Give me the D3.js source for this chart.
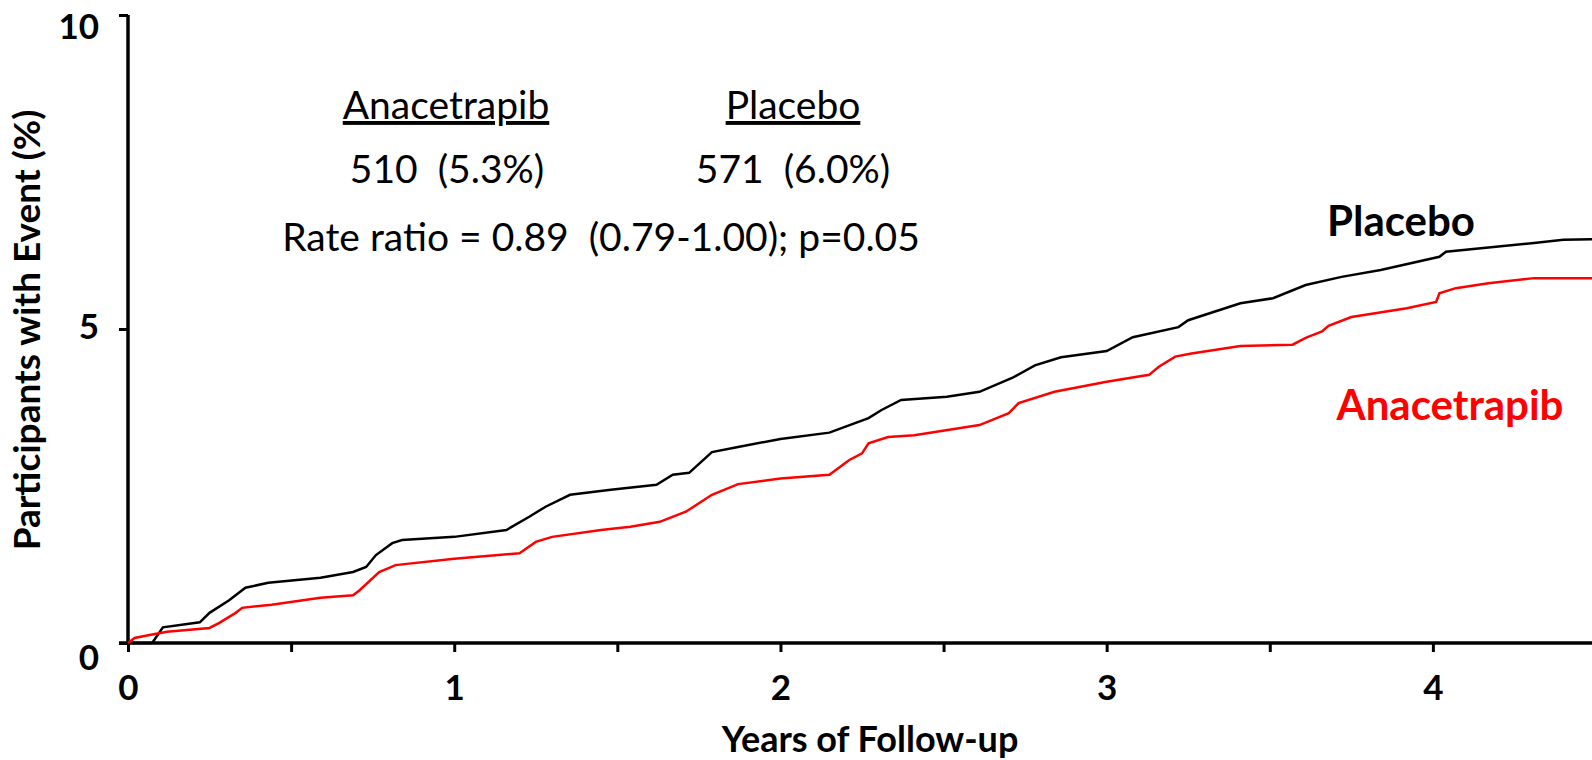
<!DOCTYPE html>
<html>
<head>
<meta charset="utf-8">
<script src="https://cdn.jsdelivr.net/npm/d3@7"></script>
<style>
  body { margin: 0; background: #fff; }
  svg { display: block; font-family: Lato, "Open Sans", sans-serif; }
</style>
</head>
<body>
<svg width="1592" height="760"></svg>
<script>
// values (years, % with event)
var placeboT   = [0, 0.074, 0.107, 0.22, 0.25, 0.31, 0.36, 0.43, 0.59, 0.69, 0.73, 0.76, 0.81, 0.84, 1.0, 1.16, 1.23, 1.28, 1.355, 1.48, 1.62, 1.67, 1.72, 1.79, 1.87, 2.0, 2.15, 2.27, 2.31, 2.37, 2.51, 2.61, 2.71, 2.78, 2.86, 3.0, 3.08, 3.22, 3.25, 3.41, 3.51, 3.61, 3.72, 3.84, 4.02, 4.04, 4.31, 4.40, 4.5];
var placeboPct = [0, 0, 0.25, 0.33, 0.48, 0.68, 0.88, 0.96, 1.04, 1.13, 1.21, 1.40, 1.59, 1.64, 1.69, 1.80, 2.01, 2.17, 2.36, 2.44, 2.52, 2.68, 2.71, 3.04, 3.12, 3.25, 3.35, 3.58, 3.71, 3.87, 3.92, 4.0, 4.22, 4.42, 4.55, 4.65, 4.87, 5.03, 5.14, 5.41, 5.49, 5.70, 5.83, 5.94, 6.15, 6.23, 6.37, 6.42, 6.43];

var anaT   = [0, 0.02, 0.07, 0.12, 0.25, 0.28, 0.33, 0.35, 0.44, 0.59, 0.69, 0.71, 0.77, 0.82, 1.0, 1.20, 1.25, 1.30, 1.45, 1.54, 1.63, 1.71, 1.79, 1.87, 2.0, 2.15, 2.21, 2.25, 2.27, 2.33, 2.41, 2.61, 2.70, 2.73, 2.84, 3.0, 3.13, 3.16, 3.21, 3.26, 3.41, 3.57, 3.61, 3.66, 3.68, 3.75, 3.92, 4.01, 4.02, 4.07, 4.17, 4.31, 4.5];
var anaPct = [0, 0.08, 0.13, 0.18, 0.24, 0.32, 0.48, 0.56, 0.61, 0.72, 0.76, 0.84, 1.13, 1.24, 1.34, 1.43, 1.61, 1.69, 1.80, 1.85, 1.93, 2.09, 2.36, 2.53, 2.62, 2.68, 2.91, 3.02, 3.18, 3.28, 3.31, 3.47, 3.66, 3.82, 4.0, 4.16, 4.27, 4.40, 4.56, 4.61, 4.73, 4.75, 4.86, 4.96, 5.05, 5.19, 5.33, 5.43, 5.57, 5.65, 5.73, 5.81, 5.81];

var xTicks = [0, 0.5, 1, 1.5, 2, 2.5, 3, 3.5, 4];
var xTickLabels = ["0", "", "1", "", "2", "", "3", "", "4"];
var yTicks = [0, 5, 10];

var svg = d3.select("svg");

var x = d3.scaleLinear().domain([0, 4.5]).range([128, 1596]);
var y = d3.scaleLinear().domain([0, 10]).range([643, 15]);

// axes
var xAxis = svg.append("g")
    .attr("transform", "translate(0,643)")
    .call(d3.axisBottom(x).tickValues(xTicks)
      .tickFormat(function(d, i) { return xTickLabels[i]; })
      .tickSizeInner(9).tickSizeOuter(0).tickPadding(23));
xAxis.select(".domain").remove();
xAxis.selectAll(".tick line").attr("stroke", "#000").attr("stroke-width", 3);
xAxis.selectAll("text")
    .attr("font-size", 35).attr("font-weight", "bold").attr("fill", "#000")
    .attr("font-family", "Lato, sans-serif");
svg.append("line")
    .attr("x1", 119).attr("x2", 1592)
    .attr("y1", 643).attr("y2", 643)
    .attr("stroke", "#000").attr("stroke-width", 3.5);

var yAxis = svg.append("g")
    .attr("transform", "translate(128,0)")
    .call(d3.axisLeft(y).tickValues(yTicks)
      .tickSizeInner(9).tickSizeOuter(0).tickPadding(20));
yAxis.select(".domain").remove();
yAxis.selectAll(".tick line").attr("stroke", "#000").attr("stroke-width", 3);
yAxis.selectAll("text")
    .attr("font-size", 35).attr("font-weight", "bold").attr("fill", "#000")
    .attr("font-family", "Lato, sans-serif")
    .attr("dy", function(d) { return d === 0 ? "0.75em" : (d === 10 ? "0.68em" : "0.28em"); });
svg.append("line")
    .attr("x1", 128).attr("x2", 128)
    .attr("y1", 15).attr("y2", 645)
    .attr("stroke", "#000").attr("stroke-width", 3.5);

// axis titles
svg.append("text")
    .attr("x", 870).attr("y", 752)
    .attr("text-anchor", "middle")
    .attr("font-size", 36).attr("font-weight", "bold")
    .text("Years of Follow-up");
svg.append("text")
    .attr("transform", "translate(40,330) rotate(-90)")
    .attr("text-anchor", "middle")
    .attr("font-size", 37).attr("font-weight", "bold")
    .text("Participants with Event (%)");

// curves
var line = d3.line()
    .x(function(d) { return x(d[0]); })
    .y(function(d) { return y(d[1]); })
    .curve(d3.curveLinear);

var placebo = d3.zip(placeboT, placeboPct);
var ana = d3.zip(anaT, anaPct);

svg.append("path").datum(placebo)
    .attr("d", line).attr("fill", "none")
    .attr("stroke", "#000").attr("stroke-width", 2.5);
svg.append("path").datum(ana)
    .attr("d", line).attr("fill", "none")
    .attr("stroke", "#ff0000").attr("stroke-width", 2.5);

// curve labels
svg.append("text").attr("x", 1401).attr("y", 236)
    .attr("text-anchor", "middle")
    .attr("font-size", 42).attr("font-weight", "bold").attr("fill", "#000")
    .text("Placebo");
svg.append("text").attr("x", 1450).attr("y", 420)
    .attr("text-anchor", "middle")
    .attr("font-size", 42).attr("font-weight", "bold").attr("fill", "#ff0000")
    .text("Anacetrapib");

// summary block
var summ = svg.append("g").attr("font-size", 39).attr("fill", "#000");
summ.append("text").attr("x", 446).attr("y", 119)
    .attr("text-anchor", "middle").attr("text-decoration", "underline")
    .text("Anacetrapib");
summ.append("text").attr("x", 793).attr("y", 119)
    .attr("text-anchor", "middle").attr("text-decoration", "underline")
    .text("Placebo");
summ.append("text").attr("x", 447).attr("y", 183)
    .attr("text-anchor", "middle").attr("xml:space", "preserve")
    .text("510  (5.3%)");
summ.append("text").attr("x", 793).attr("y", 183)
    .attr("text-anchor", "middle").attr("xml:space", "preserve")
    .text("571  (6.0%)");
summ.append("text").attr("x", 601).attr("y", 251)
    .attr("text-anchor", "middle").attr("xml:space", "preserve")
    .text("Rate ratio = 0.89  (0.79-1.00); p=0.05");
</script>
</body>
</html>
